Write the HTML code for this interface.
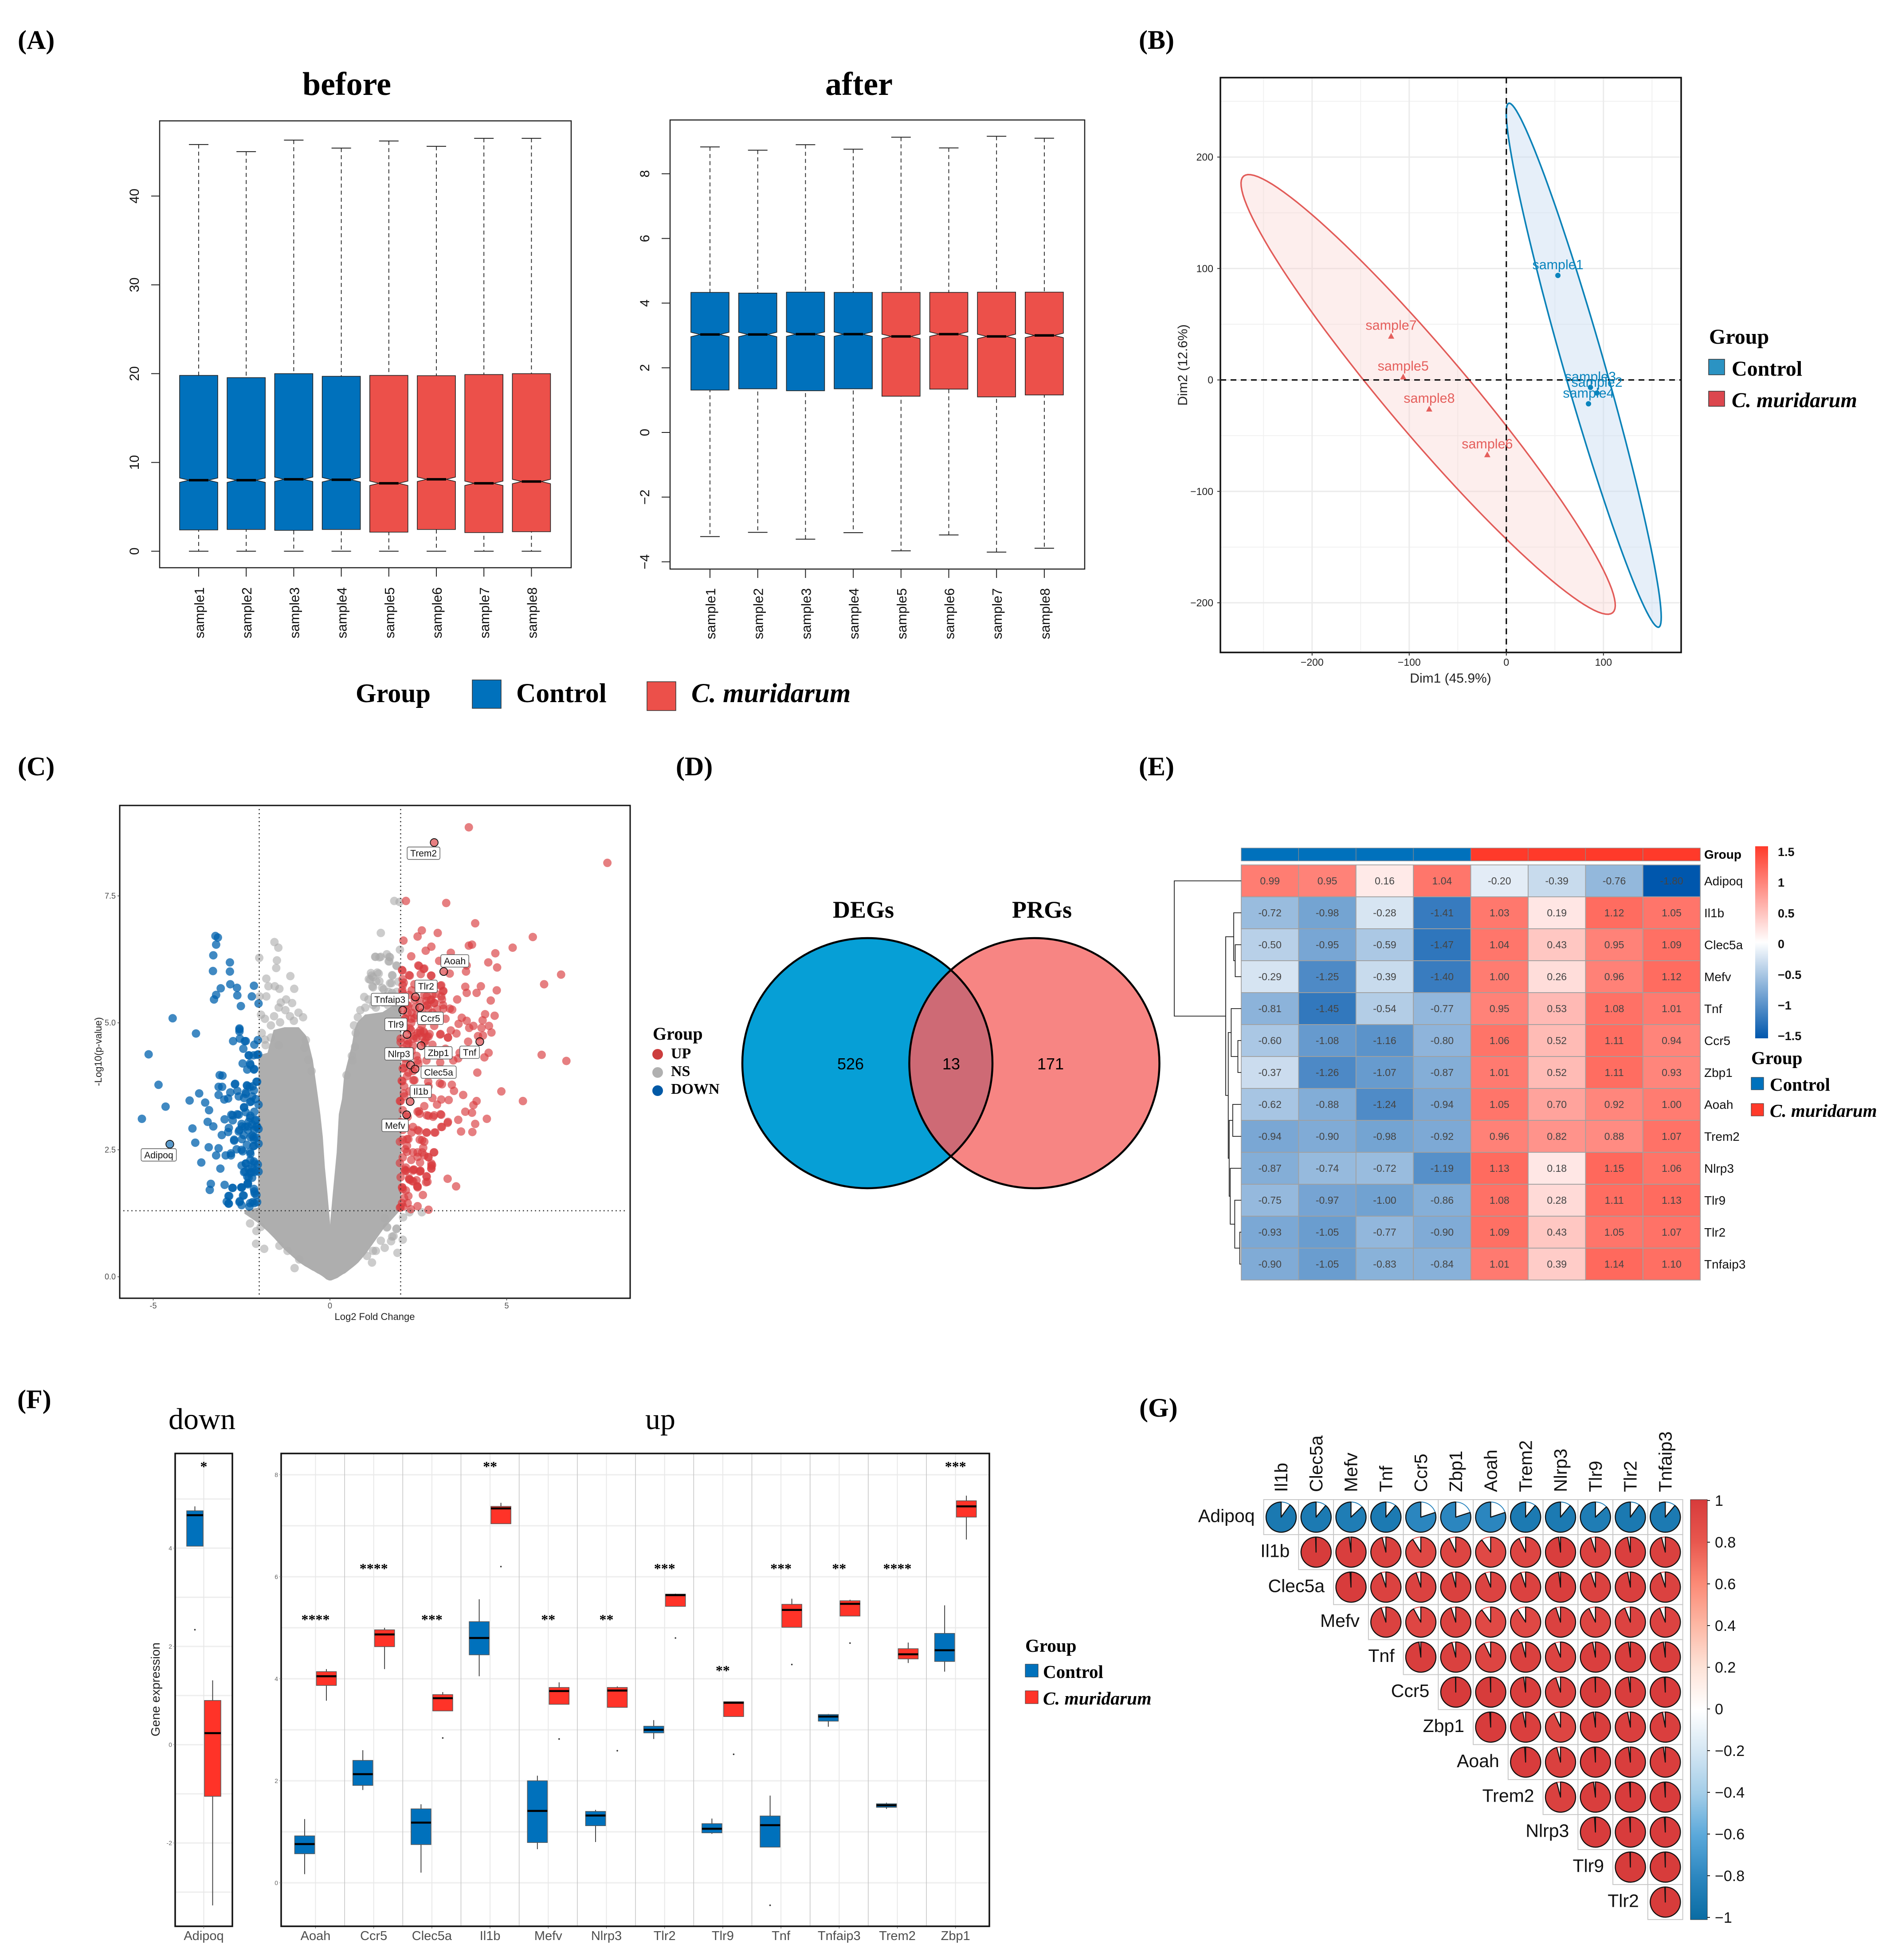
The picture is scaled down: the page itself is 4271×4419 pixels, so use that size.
<!DOCTYPE html>
<html lang="en">
<head>
<meta charset="utf-8">
<title>Multi-panel expression figure</title>
<style>
html,body{margin:0;padding:0;background:#fff}
svg{display:block}
text{font-family:"Liberation Sans",sans-serif}
.lab{font-family:"Liberation Serif",serif;font-weight:bold}
.ser{font-family:"Liberation Serif",serif}
.it{font-family:"Liberation Serif",serif;font-weight:bold;font-style:italic}
</style>
</head>
<body>
<svg id="figure" xmlns="http://www.w3.org/2000/svg" width="4271" height="4419" viewBox="0 0 4271 4419">
<rect x="0" y="0" width="4271" height="4419" fill="#fff"/>

<text class="lab" x="40" y="110" font-size="60">(A)</text>
<text class="lab" x="2568" y="110" font-size="60">(B)</text>
<text class="lab" x="40" y="1748" font-size="60">(C)</text>
<text class="lab" x="1524" y="1748" font-size="60">(D)</text>
<text class="lab" x="2568" y="1748" font-size="60">(E)</text>
<text class="lab" x="39" y="3175" font-size="60">(F)</text>
<text class="lab" x="2569" y="3194" font-size="60">(G)</text>

<g id="panel-a">
  <text class="lab" x="682" y="214" font-size="74">before</text>
  <text class="lab" x="1861" y="214" font-size="74">after</text>
  <g>
    <text class="lab" x="802" y="1583" font-size="60">Group</text>
    <rect x="1065" y="1533" width="65" height="64" fill="#0071bc" stroke="#333" stroke-width="1.5"/>
    <text class="lab" x="1164" y="1583" font-size="61.5">Control</text>
    <rect x="1459" y="1537" width="65" height="65" fill="#ec504a" stroke="#333" stroke-width="1.5"/>
    <text class="it" x="1559" y="1583" font-size="61">C. muridarum</text>
  </g>
</g>

<g id="panel-b">
  <text x="3271" y="1539" font-size="30" text-anchor="middle" fill="#222">Dim1 (45.9%)</text>
  <text x="2677" y="823" font-size="30" text-anchor="middle" fill="#222" transform="rotate(-90 2677 823)">Dim2 (12.6%)</text>
  <g>
    <text class="lab" x="3854" y="775" font-size="48">Group</text>
    <rect x="3853" y="810" width="36" height="35" fill="#2b93c3" stroke="#333" stroke-width="1.5"/>
    <text class="lab" x="3905" y="847" font-size="48">Control</text>
    <rect x="3853" y="882" width="36" height="34" fill="#dc474e" stroke="#333" stroke-width="1.5"/>
    <text class="it" x="3905" y="918" font-size="48">C. muridarum</text>
  </g>
</g>

<g id="panel-c">
  <text x="845" y="2976" font-size="22" text-anchor="middle" fill="#222">Log2 Fold Change</text>
  <text x="229" y="2371" font-size="22" text-anchor="middle" fill="#222" transform="rotate(-90 229 2371)">-Log10(p-value)</text>
  <g>
    <text class="lab" x="1472" y="2344" font-size="40">Group</text>
    <ellipse cx="1483" cy="2377" rx="12" ry="12" fill="#cc3d3d"/>
    <text class="lab" x="1513" y="2386" font-size="34">UP</text>
    <ellipse cx="1483" cy="2418" rx="12" ry="12" fill="#b0b0b0"/>
    <text class="lab" x="1513" y="2426" font-size="34">NS</text>
    <ellipse cx="1483" cy="2459" rx="12" ry="12" fill="#0059a6"/>
    <text class="lab" x="1513" y="2466" font-size="34">DOWN</text>
  </g>
</g>

<g id="panel-d">
  <text class="lab" x="1878" y="2069" font-size="54">DEGs</text>
  <text class="lab" x="2282" y="2069" font-size="54">PRGs</text>
  <defs>
    <clipPath id="vennClip"><circle cx="1956" cy="2397" r="282"/></clipPath>
  </defs>
  <circle cx="1956" cy="2397" r="282" fill="#069fd6"/>
  <circle cx="2332.5" cy="2397" r="282" fill="#f78583"/>
  <circle cx="2332.5" cy="2397" r="282" fill="#ce6a75" clip-path="url(#vennClip)"/>
  <circle cx="1956" cy="2397" r="282" fill="none" stroke="#000" stroke-width="4.5"/>
  <circle cx="2332.5" cy="2397" r="282" fill="none" stroke="#000" stroke-width="4.5"/>
  <text x="1918" y="2411" font-size="36" text-anchor="middle">526</text>
  <text x="2145" y="2411" font-size="36" text-anchor="middle">13</text>
  <text x="2369" y="2411" font-size="36" text-anchor="middle">171</text>
</g>

<g id="panel-e">
  <text x="3843" y="1936" font-size="28" font-weight="bold">Group</text>
  <defs>
    <linearGradient id="heatBar" x1="0" y1="0" x2="0" y2="1">
      <stop offset="0" stop-color="#ff3a2a"/><stop offset="0.5" stop-color="#ffffff"/><stop offset="1" stop-color="#0057ad"/>
    </linearGradient>
    <linearGradient id="corrBar" x1="0" y1="0" x2="0" y2="1">
      <stop offset="0" stop-color="#d73b3b"/><stop offset="0.1" stop-color="#e8574e"/><stop offset="0.2" stop-color="#fb8a76"/><stop offset="0.3" stop-color="#fdb8a5"/><stop offset="0.4" stop-color="#fde3d8"/><stop offset="0.5" stop-color="#ffffff"/><stop offset="0.6" stop-color="#d4e6f3"/><stop offset="0.7" stop-color="#a3cde8"/><stop offset="0.8" stop-color="#5aa8da"/><stop offset="0.9" stop-color="#2b86bf"/><stop offset="1" stop-color="#0a6ca3"/>
    </linearGradient>
  </defs>
  <rect x="3958" y="1908" width="29" height="433" fill="url(#heatBar)"/>
  <g>
    <text class="lab" x="3949" y="2399" font-size="41">Group</text>
    <rect x="3949" y="2429" width="28" height="28" fill="#0071bc" stroke="#333" stroke-width="1"/>
    <text class="lab" x="3991" y="2459" font-size="41">Control</text>
    <rect x="3949" y="2488" width="28" height="28" fill="#ff3a2a" stroke="#333" stroke-width="1"/>
    <text class="it" x="3991" y="2518" font-size="41">C. muridarum</text>
  </g>
</g>

<g id="panel-f">
  <text class="ser" x="380" y="3222" font-size="68">down</text>
  <text class="ser" x="1455" y="3222" font-size="68">up</text>
  <text x="360" y="3809" font-size="28" text-anchor="middle" fill="#222" transform="rotate(-90 360 3809)">Gene expression</text>
  <g>
    <text class="lab" x="2312" y="3724" font-size="41">Group</text>
    <rect x="2312" y="3752" width="29" height="29" fill="#0071bc" stroke="#333" stroke-width="1"/>
    <text class="lab" x="2352" y="3783" font-size="41">Control</text>
    <rect x="2312" y="3812" width="29" height="29" fill="#ff3328" stroke="#333" stroke-width="1"/>
    <text class="it" x="2352" y="3843" font-size="41.5">C. muridarum</text>
  </g>
</g>

<g id="panel-g">
  <rect x="3812" y="3381" width="38" height="947" fill="url(#corrBar)" stroke="#333" stroke-width="1"/>
</g>
</svg>

<script>
/* ---------- shared ---------- */
const SVGNS = 'http://www.w3.org/2000/svg';
function mk(tag, attrs, parent, name) {
  const el = document.createElementNS(SVGNS, tag);
  for (const k in attrs) el.setAttribute(k, attrs[k]);
  
  
  parent.appendChild(el);
  return el;
}
function txt(parent, str, x, y, size, opts, name) {
  const el = mk('text', Object.assign({x: x, y: y, 'font-size': size}, opts || {}), parent, name);
  el.textContent = str;
  return el;
}
const panelA = document.getElementById('panel-a');
const panelB = document.getElementById('panel-b');
const panelC = document.getElementById('panel-c');
const panelE = document.getElementById('panel-e');
const panelF = document.getElementById('panel-f');
const panelG = document.getElementById('panel-g');

/* ---------- panel A data ---------- */
const sampleNames = ['sample1','sample2','sample3','sample4','sample5','sample6','sample7','sample8'];
const sampleGroups = ['c','c','c','c','m','m','m','m'];
const beforeTicks = [0,10,20,30,40];
const beforeHigh = [45.8,45.0,46.3,45.4,46.2,45.6,46.5,46.5];
const beforeQ3 = [19.8,19.55,20.0,19.7,19.8,19.77,19.9,20.0];
const beforeMedian = [8.0,8.0,8.1,8.05,7.65,8.1,7.65,7.85];
const beforeQ1 = [2.4,2.45,2.35,2.45,2.15,2.45,2.1,2.2];
const beforeLow = [0,0,0,0,0,0,0,0];
const afterTicks = [-4,-2,0,2,4,6,8];
const afterHigh = [8.83,8.73,8.9,8.76,9.13,8.8,9.16,9.1];
const afterQ3 = [4.33,4.31,4.34,4.33,4.33,4.33,4.34,4.34];
const afterMedian = [3.03,3.03,3.04,3.04,2.97,3.04,2.97,3.0];
const afterQ1 = [1.31,1.35,1.29,1.35,1.12,1.34,1.10,1.16];
const afterLow = [-3.22,-3.09,-3.3,-3.1,-3.66,-3.17,-3.7,-3.58];

function drawSampleBoxes(parent, frame, xOf, yOf, ticks, high, q3, med, q1, low, labelTop) {
  mk('rect', {x: frame.x, y: frame.y, width: frame.w, height: frame.h, fill: 'none', stroke: '#222', 'stroke-width': 2.5}, parent, 'plot-frame');
  const bottom = frame.y + frame.h;
  ticks.forEach(function (t) {
    mk('line', {x1: frame.x - 19, x2: frame.x, y1: yOf(t), y2: yOf(t), stroke: '#222', 'stroke-width': 2}, parent, 'y-tick');
    const lx = frame.x - 47;
    const label = String(t).replace('-', '\u2212');
    txt(parent, label, lx, yOf(t), 30, {'text-anchor': 'middle', transform: 'rotate(-90 ' + lx + ' ' + yOf(t) + ')', fill: '#111'}, 'y-tick-label');
  });
  sampleNames.forEach(function (s, i) {
    const cx = xOf(i);
    const color = sampleGroups[i] === 'c' ? '#0071bc' : '#ec504a';
    const hw = 43, inset = 21, nh = 5;
    mk('line', {x1: cx, x2: cx, y1: yOf(high[i]), y2: yOf(low[i]), stroke: '#222', 'stroke-width': 1.8, 'stroke-dasharray': '9 7'}, parent, 'whisker-' + s);
    mk('line', {x1: cx - 22, x2: cx + 22, y1: yOf(high[i]), y2: yOf(high[i]), stroke: '#222', 'stroke-width': 2}, parent, 'cap-high-' + s);
    mk('line', {x1: cx - 22, x2: cx + 22, y1: yOf(low[i]), y2: yOf(low[i]), stroke: '#222', 'stroke-width': 2}, parent, 'cap-low-' + s);
    const yt = yOf(q3[i]), yb = yOf(q1[i]), ym = yOf(med[i]);
    const d = 'M' + (cx - hw) + ' ' + yt + 'H' + (cx + hw) + 'V' + (ym - nh) + 'L' + (cx + hw - inset) + ' ' + ym + 'L' + (cx + hw) + ' ' + (ym + nh) + 'V' + yb + 'H' + (cx - hw) + 'V' + (ym + nh) + 'L' + (cx - hw + inset) + ' ' + ym + 'L' + (cx - hw) + ' ' + (ym - nh) + 'Z';
    mk('path', {d: d, fill: color, stroke: '#222', 'stroke-width': 1.6}, parent, 'box-' + s);
    mk('line', {x1: cx - hw + inset, x2: cx + hw - inset, y1: ym, y2: ym, stroke: '#000', 'stroke-width': 5.5}, parent, 'median-' + s);
    mk('line', {x1: cx, x2: cx, y1: bottom, y2: bottom + 20, stroke: '#222', 'stroke-width': 2}, parent, 'x-tick');
    const bx = cx + 12;
    txt(parent, s, bx, labelTop, 30.5, {'text-anchor': 'end', transform: 'rotate(-90 ' + bx + ' ' + labelTop + ')', fill: '#111'}, 'x-tick-label');
  });
}
const xBefore = function (i) { return 448 + 107.2 * i; };
const yBefore = function (v) { return 1242.8 - 20.02 * v; };
const xAfter = function (i) { return 1601 + 107.7 * i; };
const yAfter = function (v) { return 975 - 72.9 * v; };
drawSampleBoxes(mk('g', {}, panelA, 'before-boxplot'), {x: 360, y: 272.5, w: 928, h: 1007.5}, xBefore, yBefore, beforeTicks, beforeHigh, beforeQ3, beforeMedian, beforeQ1, beforeLow, 1324);
drawSampleBoxes(mk('g', {}, panelA, 'after-boxplot'), {x: 1511, y: 270.5, w: 935, h: 1012.5}, xAfter, yAfter, afterTicks, afterHigh, afterQ3, afterMedian, afterQ1, afterLow, 1326);

/* ---------- panel B data ---------- */
const pcaXTicks = [-200,-100,0,100];
const pcaYTicks = [-200,-100,0,100,200];
const pcaXMinor = [-250,-150,-50,50,150];
const pcaYMinor = [-150,-50,50,150,250];
const pcaNames = ['sample1','sample3','sample2','sample4','sample7','sample5','sample8','sample6'];
const pcaDim1 = [53.1,86.6,93.3,84.6,-118.6,-106.2,-79.4,-19.6];
const pcaDim2 = [93.8,-6.7,-11.7,-21.4,39.4,2.9,-26,-67];
const pcaGroup = ['c','c','c','c','m','m','m','m'];
const controlEllipseCenter = [79.7,13.2];
const controlEllipseMajor = [77.2,-235.1];
const controlEllipseMinor = [20.2,5.04];
const muridarumEllipseCenter = [-80.5,-13];
const muridarumEllipseMajor = [190,-195.9];
const muridarumEllipseMinor = [32.1,23.6];

const xPca = function (v) { return 3396.8 + 2.19 * v; };
const yPca = function (v) { return 856.6 - 2.5123 * v; };
const bFrame = {x: 2752, y: 175, w: 1039, h: 1296};
pcaXMinor.forEach(function (v) { mk('line', {x1: xPca(v), x2: xPca(v), y1: bFrame.y, y2: bFrame.y + bFrame.h, stroke: '#f1f1f1', 'stroke-width': 2}, panelB, 'minor-gridline-x'); });
pcaYMinor.forEach(function (v) { mk('line', {x1: bFrame.x, x2: bFrame.x + bFrame.w, y1: yPca(v), y2: yPca(v), stroke: '#f1f1f1', 'stroke-width': 2}, panelB, 'minor-gridline-y'); });
pcaXTicks.forEach(function (v) { mk('line', {x1: xPca(v), x2: xPca(v), y1: bFrame.y, y2: bFrame.y + bFrame.h, stroke: '#ebebeb', 'stroke-width': 3}, panelB, 'major-gridline-x'); });
pcaYTicks.forEach(function (v) { mk('line', {x1: bFrame.x, x2: bFrame.x + bFrame.w, y1: yPca(v), y2: yPca(v), stroke: '#ebebeb', 'stroke-width': 3}, panelB, 'major-gridline-y'); });
function ellipsePath(c, m, n) {
  let d = '';
  for (let a = 0; a < 120; a++) {
    const t = a / 120 * 2 * Math.PI;
    const px = xPca(c[0] + Math.cos(t) * m[0] + Math.sin(t) * n[0]);
    const py = yPca(c[1] + Math.cos(t) * m[1] + Math.sin(t) * n[1]);
    d += (a ? 'L' : 'M') + px.toFixed(1) + ' ' + py.toFixed(1);
  }
  return d + 'Z';
}
mk('path', {d: ellipsePath(muridarumEllipseCenter, muridarumEllipseMajor, muridarumEllipseMinor), fill: '#f9cfcc', 'fill-opacity': 0.35, stroke: '#e25b58', 'stroke-width': 3.4}, panelB, 'muridarum-ellipse');
mk('path', {d: ellipsePath(controlEllipseCenter, controlEllipseMajor, controlEllipseMinor), fill: '#c8dcf2', 'fill-opacity': 0.45, stroke: '#0b82b8', 'stroke-width': 3.6}, panelB, 'control-ellipse');
mk('line', {x1: bFrame.x, x2: bFrame.x + bFrame.w, y1: yPca(0), y2: yPca(0), stroke: '#000', 'stroke-width': 3, 'stroke-dasharray': '13 10'}, panelB, 'zero-line-horizontal');
mk('line', {x1: xPca(0), x2: xPca(0), y1: bFrame.y, y2: bFrame.y + bFrame.h, stroke: '#000', 'stroke-width': 3, 'stroke-dasharray': '13 10'}, panelB, 'zero-line-vertical');
mk('rect', {x: bFrame.x, y: bFrame.y, width: bFrame.w, height: bFrame.h, fill: 'none', stroke: '#111', 'stroke-width': 3.5}, panelB, 'plot-frame');
pcaXTicks.forEach(function (v) {
  mk('line', {x1: xPca(v), x2: xPca(v), y1: bFrame.y + bFrame.h, y2: bFrame.y + bFrame.h + 7, stroke: '#333', 'stroke-width': 2}, panelB, 'x-tick');
  txt(panelB, String(v).replace('-', '\u2212'), xPca(v), 1501, 23, {'text-anchor': 'middle', fill: '#222'}, 'x-tick-label');
});
pcaYTicks.forEach(function (v) {
  mk('line', {x1: bFrame.x - 7, x2: bFrame.x, y1: yPca(v), y2: yPca(v), stroke: '#333', 'stroke-width': 2}, panelB, 'y-tick');
  txt(panelB, String(v).replace('-', '\u2212'), bFrame.x - 16, yPca(v) + 8, 23, {'text-anchor': 'end', fill: '#222'}, 'y-tick-label');
});
pcaNames.forEach(function (s, i) {
  const px = xPca(pcaDim1[i]), py = yPca(pcaDim2[i]);
  const col = pcaGroup[i] === 'c' ? '#0a84bd' : '#e55f5c';
  if (pcaGroup[i] === 'c') {
    mk('circle', {cx: px, cy: py, r: 6, fill: col}, panelB, 'point-' + s);
  } else {
    mk('path', {d: 'M' + px + ' ' + (py - 7) + 'L' + (px + 7) + ' ' + (py + 6) + 'L' + (px - 7) + ' ' + (py + 6) + 'Z', fill: col}, panelB, 'point-' + s);
  }
  txt(panelB, s, px, py - 14, 30.5, {'text-anchor': 'middle', fill: col}, 'point-label-' + s);
});

/* ---------- panel C data ---------- */
const volcanoXTicks = [-5,0,5];
const volcanoYTicks = [0,2.5,5,7.5];
const volcanoFcCutoff = 2;
const volcanoPCutoff = 1.3;
const grayEnvelopeLfc = [-2.4,-2.02,-2,-1.75,-1.58,-1.28,-0.89,-0.7,-0.62,-0.5,-0.44,-0.35,-0.29,-0.22,-0.16,-0.09,-0.02,0,0.03,0.1,0.21,0.27,0.36,0.42,0.53,0.64,0.71,0.79,1,1.5,1.95,2];
const grayEnvelopeUpper = [1.3,1.35,4.35,4.4,4.85,4.9,4.9,4.75,4.6,4.26,3.96,3.51,3.2,2.75,2.15,1.65,1.1,0.8,1.1,1.65,2.45,3.2,3.5,3.96,4.26,4.56,4.86,5.0,5.15,5.2,5.4,5.4];
const grayEnvelopeLower = [1.25,1.07,1.06,0.9,0.78,0.55,0.31,0.22,0.19,0.14,0.12,0.08,0.06,0.03,0,-0.04,-0.06,-0.06,-0.06,-0.04,-0.01,0.02,0.06,0.08,0.14,0.2,0.24,0.29,0.46,0.95,1.3,1.35];
const grayPoints = [[1.82,7.4],[1.97,7.38],[1.44,6.77],[1.98,6.44],[1.28,6.3],[1.4,6.29],[1.61,6.35],[1.7,6.29],[1.88,6.13],[1.68,6.21],[1.16,5.98],[1.34,5.99],[1.22,5.9],[1.1,5.86],[1.4,5.82],[1.76,5.94],[1.7,5.78],[1.22,5.7],[1.52,5.66],[0.97,5.51],[1.09,5.46],[0.86,5.25],[1.2,5.72],[1.18,5.93],[1.38,5.97],[1.14,5.85],[1.31,5.82],[1.77,5.93],[1.74,5.78],[1.48,5.69],[1.94,5.81],[1.66,5.61],[1.89,5.61],[1.89,6.12],[1.66,6.21],[1.29,6.3],[1.44,6.3],[1.68,6.3],[0.79,5.11],[0.68,4.95],[0.73,4.8],[0.71,4.53],[0.62,4.35],[0.64,4.26],[0.47,3.97],[1.22,5.35],[1.64,5.35],[1.76,5.59],[1.9,5.3],[1.5,5.4],[1.0,5.3],[1.3,5.3],
[-1.57,6.59],[-1.46,6.48],[-2.0,6.28],[-1.5,6.23],[-1.52,6.08],[-1.12,5.92],[-1.8,5.87],[-1.01,5.67],[-1.74,5.72],[-1.56,5.72],[-1.43,5.67],[-1.8,5.52],[-1.99,5.52],[-1.24,5.46],[-1.39,5.4],[-1.07,5.39],[-1.45,5.3],[-1.26,5.25],[-0.89,5.2],[-0.76,5.11],[-1.13,5.13],[-1.58,5.13],[-1.95,5.16],[-1.84,5.08],[-1.41,5.01],[-1.67,4.95],[-1.02,5.04],[-1.84,4.67],[-1.67,4.71],[-1.82,4.56],[-0.68,4.66],[-0.72,4.51],[-0.61,4.27],[-0.52,4.05],[-1.93,4.8],[-1.45,4.56],
[-1,0.17],[-1.86,0.55],[-2.09,0.65],[-1.96,0.98],[-2.26,1.05],[-2.08,0.9],[-1.43,0.61],[-1.2,0.51],[-0.87,0.34],[2.06,0.73],[1.91,0.47],[1.55,0.57],[1.44,0.71],[1.19,0.28],[1.22,0.51],[1.61,0.97],[1.88,0.94],[2.6,1.27],[1.76,0.79],[1.8,0.8],[1.73,0.7],[1.3,0.51],[1.05,0.41],[1.62,0.98],[1.89,0.95],[2.07,1.17],[2.25,1.27],[1.55,1.15]];
const upPoints = [[3.93,8.85],[7.85,8.15],[2.15,7.4],[3.29,7.36],[4.11,6.96],[2.6,6.82],[3.05,6.77],[2.48,6.7],[2.08,6.62],[5.74,6.69],[3.93,6.52],[4.02,6.54],[2.87,6.5],[5.17,6.48],[2.71,6.42],[4.68,6.37],[3.42,6.38],[2.3,6.31],[3.09,6.22],[4.48,6.19],[2.5,6.13],[4.73,6.09],[2.67,6.07],[3.87,6.13],[2.04,6.04],[3.85,6.01],[6.54,5.95],[2.24,5.94],[3.39,5.97],[2.86,5.93],[2.57,5.96],[2.06,5.86],[6.06,5.76],[2.06,5.74],[3.83,5.71],[4.27,5.72],[3.15,5.74],[4.72,5.64],[3.2,5.62],[4.15,5.59],[3.87,5.59],[3.15,5.52],[2.06,5.59],[2.24,5.55],[2.67,5.55],[2.9,5.55],[3.6,5.46],[4.55,5.44],[2.54,5.43],[2.73,5.43],[2.96,5.39],[3.2,5.35],[3.46,5.26],[2.18,5.35],[2.79,5.27],[3.03,5.27],[4.39,5.17],[4.66,5.14],[3.73,5.1],[4.32,5.05],[3.87,5.04],[3.64,4.98],[2.12,5.08],[2.3,5.08],[3.27,5.08],[4.06,4.94],[4.5,4.94],[4.29,4.9],[3.94,4.9],[3.42,4.85],[4.57,4.81],[3.58,4.79],[3.12,4.77],[4.19,4.74],[4.33,4.75],[2.48,4.8],[2.67,4.8],[2.6,4.73],[2.79,4.73],[2.36,4.69],[2.0,4.69],[3.34,4.71],[3.91,4.63],[2.67,4.61],[2.9,4.57],[2.18,4.57],[2.06,4.49],[3.27,4.49],[3.67,4.41],[4.49,4.41],[5.99,4.37],[6.69,4.25],[4.37,4.32],[3.63,4.3],[3.49,4.26],[3.12,4.22],[2.73,4.26],[2.12,4.3],[2.79,4.06],[2.06,4.1],[2.18,3.95],[4.17,4.02],[2.03,3.86],[3.11,3.81],[2.36,3.87],[2.79,3.75],[3.45,3.78],[4.85,3.65],[3.51,3.66],[2.67,3.67],[3.77,3.58],[5.46,3.46],[4.15,3.46],[3.15,3.49],[3.36,3.48],[2.0,3.46],[2.9,3.52],[3.03,3.39],[4.06,3.38],[2.67,3.36],[2.06,3.28],[3.83,3.25],[4.02,3.23],[2.48,3.25],[2.54,3.21],[2.79,3.17],[2.92,3.15],[3.15,3.19],[4.44,3.11],[3.63,3.09],[2.0,3.05],[4.11,3.01],[3.33,3.03],[3.15,2.95],[3.71,2.86],[4.03,2.85],[2.48,2.89],[2.96,2.84],[2.73,2.84],[2.06,2.89],[2.06,2.7],[2.18,2.71],[2.54,2.7],[2.67,2.66],[2.64,2.54],[2.18,2.58],[2.94,2.45],[2.48,2.45],[2.67,2.39],[2.06,2.35],[2.18,2.46],[2.79,2.35],[2.87,2.23],[2.87,2.13],[2.12,2.11],[2.36,2.11],[2.54,2.07],[2.73,1.98],[2.0,1.96],[2.24,1.92],[2.36,1.88],[3.33,1.93],[2.72,1.86],[2.48,1.76],[3.57,1.78],[2.06,1.72],[2.22,1.59],[2.63,1.61],[2.04,1.45],[2.2,1.45],[2.48,1.39],[2.79,1.32],[2.0,1.37],
[2.05,6.03],[2.65,6.06],[2.52,6.12],[2.26,5.93],[2.87,5.93],[2.39,5.76],[2.09,5.79],[3.13,5.73],[2.31,5.64],[3.21,5.63],[2.05,5.64],[2.74,5.52],[3.0,5.57],[2.87,5.46],[2.95,5.39],[3.17,5.46],[2.22,5.34],[2.74,5.34],[3.21,5.28],[2.31,5.2],[3.39,5.28],[2.13,5.09],[2.39,5.09],[2.95,4.94],[2.26,4.89],[2.65,4.83],[2.82,4.78],[2.56,4.8],[3.13,4.78],[3.34,4.71],[2.74,4.72],[2.39,4.74],[2.0,4.62],[2.22,4.59],[2.31,4.44],[2.48,4.26],[2.09,4.11],[2.22,4.02],[2.05,3.85],[2.39,3.87],[2.78,3.84],[3.17,3.79],[2.09,3.61],[2.52,3.26],[1.98,3.46],[2.74,3.18],[2.95,3.18],[3.13,3.2],[3.34,3.05],[3.17,2.95],[2.52,2.87],[2.74,2.84],[2.98,2.84],[2.31,2.84],[1.98,2.66],[2.22,2.71],[2.61,2.69],[2.13,2.51],[2.35,2.45],[2.48,2.36],[2.78,2.36],[2.95,2.45],[2.61,2.45],[1.98,2.24],[2.15,2.09],[2.35,2.09],[2.56,2.09],[2.87,2.18],[2.74,1.97],[2.05,1.76],[2.48,1.78],[2.26,1.91],[2.07,1.38],[1.98,1.36],[2.29,1.33],[2.04,1.76],[2.47,1.78],[2.76,1.87],[2.24,1.94],[2.33,1.88],[2.13,2.08],[2.38,2.11],[2.56,2.08],[2.89,2.2],[2.87,2.13],[2.4,5.3],[2.6,5.2],[2.9,5.2],[2.2,5.2],[2.3,5.0],[2.4,5.45],[2.75,5.35],[2.85,5.45],[2.15,4.9],[2.3,4.85],[2.45,4.7],[2.55,4.85],[2.2,4.65],[2.35,4.55],[2.25,4.4],[2.45,4.35],[2.15,4.2],[2.35,4.05],[2.5,4.2],[2.1,3.75],[2.25,3.65],[2.1,3.55],[2.4,3.6],[2.2,3.15],[2.15,2.95],[2.35,2.95],[2.3,2.3],[2.55,2.25],[2.15,2.15],[2.45,1.9],[2.15,1.7],[2.1,1.55],[2.6,4.95],[2.7,4.65],[2.45,5.15],[2.65,5.05],[2.95,5.05]];
const downPoints = [[-3.24,6.71],[-3.17,6.68],[-3.22,6.54],[-3.3,6.33],[-2.83,6.19],[-3.31,6.02],[-2.83,6.01],[-2.82,5.76],[-3.09,5.68],[-2.63,5.69],[-2.15,5.73],[-3.22,5.55],[-3.28,5.46],[-2.62,5.54],[-2.21,5.52],[-2.02,5.38],[-2.52,5.33],[-4.45,5.09],[-3.79,4.79],[-2.56,4.89],[-2.56,4.83],[-2.55,4.69],[-2.74,4.64],[-2.38,4.64],[-2.04,4.66],[-2.14,4.57],[-2.45,4.49],[-5.13,4.38],[-2.29,4.36],[-2.16,4.36],[-2.03,4.38],[-2.47,4.2],[-2.26,4.2],[-2.34,4.08],[-2.14,4.09],[-3.12,3.97],[-3.04,3.96],[-2.06,3.84],[-4.85,3.78],[-2.68,3.8],[-2.35,3.77],[-3.15,3.74],[-3.05,3.74],[-2.27,3.74],[-2.15,3.67],[-2.62,3.66],[-2.82,3.63],[-2.38,3.6],[-3.7,3.61],[-3.15,3.58],[-2.99,3.49],[-2.88,3.51],[-3.97,3.47],[-2.26,3.44],[-2.02,3.39],[-3.53,3.43],[-2.43,3.34],[-4.65,3.35],[-3.42,3.28],[-2.14,3.25],[-2.79,3.19],[-2.62,3.2],[-2.98,3.1],[-5.32,3.11],[-2.26,3.13],[-2.09,3.09],[-3.46,3.05],[-2.5,3.01],[-3.3,2.96],[-2.86,2.93],[-3.89,2.92],[-2.56,2.89],[-2.32,2.89],[-2.14,2.89],[-2.02,2.91],[-2.88,2.85],[-3.06,2.79],[-2.44,2.79],[-2.2,2.78],[-2.08,2.74],[-2.71,2.7],[-3.81,2.64],[-3.43,2.55],[-3.15,2.53],[-2.14,2.58],[-2.02,2.62],[-2.5,2.5],[-2.26,2.46],[-2.8,2.43],[-3.22,2.39],[-2.95,2.39],[-2.8,2.39],[-3.64,2.25],[-2.5,2.19],[-2.38,2.23],[-2.14,2.23],[-3.1,2.13],[-2.4,2.07],[-2.26,2.04],[-2.14,2.06],[-2.02,2.07],[-3.37,1.83],[-2.98,1.81],[-2.32,1.84],[-3.4,1.71],[-2.76,1.75],[-2.5,1.76],[-2.14,1.68],[-2.08,1.61],[-2.46,1.6],[-2.85,1.59],[-2.92,1.48],[-2.86,1.44],[-2.56,1.47],[-2.5,1.41],[-2.26,1.45],[-2.14,1.45],[-2.2,3.0],[-2.3,3.05],[-2.4,2.95],[-2.25,2.75],[-2.15,2.7],[-2.35,2.6],[-2.25,2.3],[-2.2,2.15],[-2.3,2.12],[-2.1,2.95],[-2.2,3.55],[-2.1,3.5],[-2.3,1.95],[-2.2,1.95],
[-2.56,4.87],[-2.41,4.64],[-2.3,4.36],[-2.06,4.37],[-2.25,4.17],[-2.15,4.08],[-2.69,3.79],[-2.34,3.76],[-2.19,3.75],[-2.08,3.84],[-2.38,3.63],[-2.58,3.55],[-2.43,3.52],[-2.23,3.45],[-2.43,3.33],[-2.38,3.24],[-2.75,3.18],[-2.58,3.19],[-2.75,3.08],[-2.25,3.17],[-2.12,3.08],[-2.49,2.96],[-2.32,2.96],[-2.06,2.96],[-2.58,2.86],[-2.15,2.75],[-2.71,2.68],[-2.49,2.71],[-2.17,2.57],[-2.64,2.51],[-2.47,2.47],[-2.25,2.42],[-2.38,2.23],[-2.15,2.27],[-2.04,2.21],[-2.23,2.06],[-2.43,2.06],[-2.34,1.97],[-2.1,2.09],[-2.32,1.82],[-2.49,1.76],[-2.15,1.73],[-2.87,1.59],[-2.55,1.49],[-2.87,1.44],[-2.28,1.38],[-2.06,1.47],[-2.44,1.6],[-2.19,1.47],[-2.13,1.64],[-2.33,1.84],[-2.51,1.76],[-2.75,1.75]];
const geneLabels = ['Trem2','Aoah','Tlr2','Tnfaip3','Ccr5','Tlr9','Nlrp3','Zbp1','Tnf','Clec5a','Il1b','Mefv','Adipoq'];
const geneLfc = [2.95,3.22,2.42,2.06,2.54,2.18,2.28,2.58,4.24,2.41,2.27,2.17,-4.53];
const geneLogP = [8.55,6.01,5.51,5.25,5.3,4.77,4.17,4.55,4.63,4.09,3.45,3.19,2.61];
/* label box displacement from its point, in pixels (layout, not data) */
const labelDx = [-24,25,24,-29,24,-25,-26,39,-23,53,24,-26,-25];
const labelDy = [24,-24,-24,-24,24,-23,-25,16,24,7,-23,24,24];

const xVol = function (v) { return 744 + 79.7 * v; };
const yVol = function (v) { return 2878.6 - 114.5 * v; };
const cFrame = {x: 270, y: 1816, w: 1151, h: 1111};
{
  const gg = mk('g', {}, panelC, 'gray-not-significant-points');
  let d = '';
  grayEnvelopeLfc.forEach(function (v, i) { d += (i ? 'L' : 'M') + xVol(v).toFixed(1) + ' ' + yVol(grayEnvelopeUpper[i]).toFixed(1); });
  for (let i = grayEnvelopeLfc.length - 1; i >= 0; i--) d += 'L' + xVol(grayEnvelopeLfc[i]).toFixed(1) + ' ' + yVol(grayEnvelopeLower[i]).toFixed(1);
  mk('path', {d: d + 'Z', fill: '#aeaeae', stroke: '#aeaeae', 'stroke-width': 3, 'stroke-linejoin': 'round'}, gg, 'gray-point-mass');
  grayPoints.forEach(function (p) { mk('circle', {cx: xVol(p[0]), cy: yVol(p[1]), r: 9.5, fill: '#aaaaaa', 'fill-opacity': 0.6}, gg, 'gray-point'); });
  const gu = mk('g', {}, panelC, 'up-points');
  upPoints.forEach(function (p) { mk('circle', {cx: xVol(p[0]), cy: yVol(p[1]), r: 9.5, fill: '#d93a3d', 'fill-opacity': 0.65}, gu, 'up-point'); });
  const gd = mk('g', {}, panelC, 'down-points');
  downPoints.forEach(function (p) { mk('circle', {cx: xVol(p[0]), cy: yVol(p[1]), r: 9.5, fill: '#0062ad', 'fill-opacity': 0.75}, gd, 'down-point'); });
  [volcanoFcCutoff, -volcanoFcCutoff].forEach(function (v) {
    mk('line', {x1: xVol(v), x2: xVol(v), y1: cFrame.y + 8, y2: cFrame.y + cFrame.h - 8, stroke: '#333', 'stroke-width': 2.6, 'stroke-dasharray': '2.6 6.5'}, panelC, 'fold-change-cutoff-line');
  });
  mk('line', {x1: cFrame.x + 8, x2: cFrame.x + cFrame.w - 8, y1: yVol(volcanoPCutoff), y2: yVol(volcanoPCutoff), stroke: '#333', 'stroke-width': 2.6, 'stroke-dasharray': '2.6 6.5'}, panelC, 'p-value-cutoff-line');
  mk('rect', {x: cFrame.x, y: cFrame.y, width: cFrame.w, height: cFrame.h, fill: 'none', stroke: '#111', 'stroke-width': 3}, panelC, 'plot-frame');
  volcanoXTicks.forEach(function (v) {
    mk('line', {x1: xVol(v), x2: xVol(v), y1: cFrame.y + cFrame.h, y2: cFrame.y + cFrame.h + 5, stroke: '#444', 'stroke-width': 1.5}, panelC, 'x-tick');
    txt(panelC, String(v), xVol(v), 2950, 18, {'text-anchor': 'middle', fill: '#4d4d4d'}, 'x-tick-label');
  });
  volcanoYTicks.forEach(function (v) {
    mk('line', {x1: cFrame.x - 5, x2: cFrame.x, y1: yVol(v), y2: yVol(v), stroke: '#444', 'stroke-width': 1.5}, panelC, 'y-tick');
    txt(panelC, v.toFixed(1), cFrame.x - 9, yVol(v) + 6, 18, {'text-anchor': 'end', fill: '#4d4d4d'}, 'y-tick-label');
  });
  geneLabels.forEach(function (name, i) {
    const px = xVol(geneLfc[i]), py = yVol(geneLogP[i]);
    const up = geneLfc[i] > 0;
    mk('circle', {cx: px, cy: py, r: 8.8, fill: up ? '#d93a3d' : '#0062ad', 'fill-opacity': 0.65, stroke: '#111', 'stroke-width': 1.8}, panelC, 'gene-point-' + name);
  });
  geneLabels.forEach(function (name, i) {
    const cx = xVol(geneLfc[i]) + labelDx[i], cy = yVol(geneLogP[i]) + labelDy[i];
    const box = mk('rect', {rx: 3.5, ry: 3.5, y: cy - 14, height: 28, fill: '#fff', stroke: '#555', 'stroke-width': 1.4}, panelC, 'gene-label-box-' + name);
    const t = txt(panelC, name, cx, cy + 7.5, 21, {'text-anchor': 'middle', fill: '#111'}, 'gene-label-' + name);
    const w = t.getComputedTextLength() + 14;
    box.setAttribute('x', cx - w / 2);
    box.setAttribute('width', w);
  });
}

/* ---------- panel E data ---------- */
const heatRows = ['Adipoq','Il1b','Clec5a','Mefv','Tnf','Ccr5','Zbp1','Aoah','Trem2','Nlrp3','Tlr9','Tlr2','Tnfaip3'];
const heatColumnGroups = ['c','c','c','c','m','m','m','m'];
const heatAdipoq = [0.99,0.95,0.16,1.04,-0.20,-0.39,-0.76,-1.80];
const heatIl1b = [-0.72,-0.98,-0.28,-1.41,1.03,0.19,1.12,1.05];
const heatClec5a = [-0.50,-0.95,-0.59,-1.47,1.04,0.43,0.95,1.09];
const heatMefv = [-0.29,-1.25,-0.39,-1.40,1.00,0.26,0.96,1.12];
const heatTnf = [-0.81,-1.45,-0.54,-0.77,0.95,0.53,1.08,1.01];
const heatCcr5 = [-0.60,-1.08,-1.16,-0.80,1.06,0.52,1.11,0.94];
const heatZbp1 = [-0.37,-1.26,-1.07,-0.87,1.01,0.52,1.11,0.93];
const heatAoah = [-0.62,-0.88,-1.24,-0.94,1.05,0.70,0.92,1.00];
const heatTrem2 = [-0.94,-0.90,-0.98,-0.92,0.96,0.82,0.88,1.07];
const heatNlrp3 = [-0.87,-0.74,-0.72,-1.19,1.13,0.18,1.15,1.06];
const heatTlr9 = [-0.75,-0.97,-1.00,-0.86,1.08,0.28,1.11,1.13];
const heatTlr2 = [-0.93,-1.05,-0.77,-0.90,1.09,0.43,1.05,1.07];
const heatTnfaip3 = [-0.90,-1.05,-0.83,-0.84,1.01,0.39,1.14,1.10];
const heatValues = [heatAdipoq,heatIl1b,heatClec5a,heatMefv,heatTnf,heatCcr5,heatZbp1,heatAoah,heatTrem2,heatNlrp3,heatTlr9,heatTlr2,heatTnfaip3];
const heatLegendTicks = [1.5,1,0.5,0,-0.5,-1,-1.5];
/* dendrogram merges: [left child, right child, merge distance]; ints >=0 are rows, 'mN' are earlier merges */
const dendroMerges = [
  [2,3,0.09],[1,'m0',0.112],[5,6,0.05],[4,'m2',0.15],[7,8,0.127],[11,12,0.022],[10,'m5',0.097],[9,'m6',0.164],['m4','m7',0.18],['m3','m8',0.194],['m1','m9',0.232],[0,'m10',1]
];

const heatX = function (c) { return 2799 + 129.4 * c; };
const heatY = function (r) { return 1950 + 72 * r; };
function heatColor(v) {
  const hi = [255,58,42], lo = [0,87,173];
  const t = v >= 0 ? Math.min(v / 1.5, 1) : Math.min(-v / 1.8, 1);
  const e = v >= 0 ? hi : lo;
  return 'rgb(' + [0,1,2].map(function (k) { return Math.round(255 + (e[k] - 255) * t); }).join(',') + ')';
}
heatColumnGroups.forEach(function (g, c) {
  mk('rect', {x: heatX(c), y: 1912, width: 129.4, height: 29, fill: g === 'c' ? '#0071bc' : '#ff3a2a', stroke: '#8a8a8a', 'stroke-width': 1.2}, panelE, 'group-annotation-cell');
});
heatRows.forEach(function (name, r) {
  heatValues[r].forEach(function (v, c) {
    mk('rect', {x: heatX(c), y: heatY(r), width: 129.4, height: 72, fill: heatColor(v), stroke: '#a0a0a0', 'stroke-width': 1.8}, panelE, 'heat-cell-' + name);
    txt(panelE, v.toFixed(2), heatX(c) + 64.7, heatY(r) + 44, 23, {'text-anchor': 'middle', fill: '#444'}, 'heat-value');
  });
  txt(panelE, name, 3843, heatY(r) + 46, 28, {fill: '#111'}, 'row-label-' + name);
});
{
  const dg = mk('g', {fill: 'none', stroke: '#222', 'stroke-width': 1.8}, panelE, 'row-dendrogram');
  const dx = function (dist) { return 2799 - dist * 151; };
  const nodes = [];
  const resolve = function (c) {
    if (typeof c === 'number') return {y: heatY(c) + 36, x: 2799};
    return nodes[+c.slice(1)];
  };
  dendroMerges.forEach(function (m) {
    const a = resolve(m[0]), b = resolve(m[1]), x = dx(m[2]);
    mk('path', {d: 'M' + a.x + ' ' + a.y + 'H' + x + 'V' + b.y + 'H' + b.x}, dg, 'dendrogram-merge');
    nodes.push({x: x, y: (a.y + b.y) / 2});
  });
}
heatLegendTicks.forEach(function (v, i) {
  const label = String(v).replace('-', '\u2212');
  txt(panelE, label, 4009, 1930 + 69.2 * i, 27, {'font-weight': 'bold', fill: '#111'}, 'colorbar-tick-label');
});

/* ---------- panel F data ---------- */
const downGene = ['Adipoq'];
const upGenes = ['Aoah','Ccr5','Clec5a','Il1b','Mefv','Nlrp3','Tlr2','Tlr9','Tnf','Tnfaip3','Trem2','Zbp1'];
const upStars = ['****','****','***','**','**','**','***','**','***','**','****','***'];
const upStarLevel = [5.2,6.2,5.2,8.2,5.2,5.2,6.2,4.2,6.2,6.2,6.2,8.2];
const controlLow = [0.17,1.82,0.2,4.05,0.66,0.8,2.82,0.96,0.7,3.06,1.45,4.14];
const controlQ1 = [0.57,1.91,0.75,4.47,0.79,1.12,2.94,0.98,0.7,3.17,1.48,4.34];
const controlMed = [0.76,2.13,1.18,4.8,1.41,1.32,3.0,1.06,1.13,3.26,1.52,4.56];
const controlQ3 = [0.92,2.4,1.45,5.12,2.0,1.4,3.07,1.16,1.31,3.3,1.55,4.89];
const controlHigh = [1.25,2.6,1.54,5.56,2.1,1.43,3.19,1.26,1.71,3.31,1.57,5.44];
const controlOutlier = [null,null,null,null,null,null,null,null,-0.44,null,null,null];
const caseLow = [3.57,4.19,3.37,7.04,3.5,3.44,5.42,3.26,5.01,5.23,4.31,6.73];
const caseQ1 = [3.87,4.63,3.37,7.04,3.5,3.44,5.42,3.26,5.01,5.23,4.39,7.17];
const caseMed = [4.05,4.87,3.62,7.34,3.76,3.77,5.64,3.53,5.35,5.47,4.48,7.38];
const caseQ3 = [4.14,4.96,3.69,7.38,3.83,3.83,5.66,3.55,5.46,5.53,4.59,7.49];
const caseHigh = [4.19,5.0,3.74,7.45,3.93,3.85,5.67,3.55,5.57,5.55,4.71,7.59];
const caseOutlier = [null,null,2.84,6.2,2.82,2.59,4.8,2.52,4.28,4.7,null,null];
const downControl = [4.04,4.04,4.67,4.76,4.85];
const downCase = [-3.27,-1.05,0.235,0.90,1.31];
const downControlOutlier = 2.34;
const downStars = '*';
const downStarLevel = 5.7;
const fUpTicks = [0,2,4,6,8];
const fUpGrid = [0,1,2,3,4,5,6,7,8];
const fDownTicks = [-2,0,2,4];
const fDownGrid = [-3,-2,-1,0,1,2,3,4,5];

const yUp = function (v) { return 4245 - 115 * v; };
const yDown = function (v) { return 3933.6 - 110.8 * v; };
const xUp = function (i) { return 711.5 + 131.2 * i; };
const fTop = 3277, fBottom = 4343;
function fBox(parent, cx, w, stats, yOf, fill, name) {
  mk('line', {x1: cx, x2: cx, y1: yOf(stats[4]), y2: yOf(stats[0]), stroke: '#333', 'stroke-width': 1.8}, parent, 'whisker-' + name);
  mk('rect', {x: cx - w / 2, y: yOf(stats[3]), width: w, height: yOf(stats[1]) - yOf(stats[3]), fill: fill, stroke: '#555', 'stroke-width': 1.5}, parent, 'box-' + name);
  mk('line', {x1: cx - w / 2, x2: cx + w / 2, y1: yOf(stats[2]), y2: yOf(stats[2]), stroke: '#000', 'stroke-width': 4.5}, parent, 'median-' + name);
}
{
  const gD = mk('g', {}, panelF, 'down-panel');
  const dFrame = {x: 395, w: 129};
  fDownGrid.forEach(function (v) { mk('line', {x1: dFrame.x, x2: dFrame.x + dFrame.w, y1: yDown(v), y2: yDown(v), stroke: '#eeeeee', 'stroke-width': 3}, gD, 'gridline'); });
  const dcx = dFrame.x + dFrame.w / 2;
  mk('line', {x1: dcx, x2: dcx, y1: fTop, y2: fBottom, stroke: '#e6e6e6', 'stroke-width': 2}, gD, 'gridline');
  fBox(gD, dcx - 20, 37, downControl, yDown, '#0071bc', downGene[0] + '-control');
  fBox(gD, dcx + 20, 37, downCase, yDown, '#ff3328', downGene[0] + '-muridarum');
  mk('circle', {cx: dcx - 20, cy: yDown(downControlOutlier), r: 1.8, fill: '#333'}, gD, 'outlier');
  txt(gD, downStars, dcx, yDown(downStarLevel) + 15, 32, {'text-anchor': 'middle', class: 'lab'}, 'significance-stars');
  mk('rect', {x: dFrame.x, y: fTop, width: dFrame.w, height: fBottom - fTop, fill: 'none', stroke: '#111', 'stroke-width': 3.5}, gD, 'plot-frame');
  fDownTicks.forEach(function (v) {
    mk('line', {x1: dFrame.x - 4, x2: dFrame.x, y1: yDown(v), y2: yDown(v), stroke: '#666', 'stroke-width': 1.2}, gD, 'y-tick');
    txt(gD, String(v), dFrame.x - 7, yDown(v) + 5, 14, {'text-anchor': 'end', fill: '#666'}, 'y-tick-label');
  });
  mk('line', {x1: dcx, x2: dcx, y1: fBottom, y2: fBottom + 5, stroke: '#666', 'stroke-width': 1.2}, gD, 'x-tick');
  txt(gD, downGene[0], dcx, 4374, 29, {'text-anchor': 'middle', fill: '#4d4d4d'}, 'x-tick-label');

  const gU = mk('g', {}, panelF, 'up-panel');
  const uFrame = {x: 634, w: 1597};
  fUpGrid.forEach(function (v) { mk('line', {x1: uFrame.x, x2: uFrame.x + uFrame.w, y1: yUp(v), y2: yUp(v), stroke: '#eeeeee', 'stroke-width': 3}, gU, 'gridline'); });
  upGenes.forEach(function (g, i) {
    const cx = xUp(i);
    mk('line', {x1: cx, x2: cx, y1: fTop, y2: fBottom, stroke: '#e8e8e8', 'stroke-width': 2}, gU, 'category-gridline');
    if (i > 0) mk('line', {x1: cx - 65.6, x2: cx - 65.6, y1: fTop, y2: fBottom, stroke: '#c4c4c4', 'stroke-width': 1.5}, gU, 'category-separator');
  });
  upGenes.forEach(function (g, i) {
    const cx = xUp(i);
    fBox(gU, cx - 24.5, 45, [controlLow[i],controlQ1[i],controlMed[i],controlQ3[i],controlHigh[i]], yUp, '#0071bc', g + '-control');
    fBox(gU, cx + 24.5, 45, [caseLow[i],caseQ1[i],caseMed[i],caseQ3[i],caseHigh[i]], yUp, '#ff3328', g + '-muridarum');
    if (controlOutlier[i] !== null) mk('circle', {cx: cx - 24.5, cy: yUp(controlOutlier[i]), r: 1.8, fill: '#333'}, gU, 'outlier');
    if (caseOutlier[i] !== null) mk('circle', {cx: cx + 24.5, cy: yUp(caseOutlier[i]), r: 1.8, fill: '#333'}, gU, 'outlier');
    txt(gU, upStars[i], cx, yUp(upStarLevel[i]) + 15, 32, {'text-anchor': 'middle', class: 'lab'}, 'significance-stars');
    mk('line', {x1: cx, x2: cx, y1: fBottom, y2: fBottom + 5, stroke: '#666', 'stroke-width': 1.2}, gU, 'x-tick');
    txt(gU, g, cx, 4374, 29, {'text-anchor': 'middle', fill: '#4d4d4d'}, 'x-tick-label');
  });
  mk('rect', {x: uFrame.x, y: fTop, width: uFrame.w, height: fBottom - fTop, fill: 'none', stroke: '#111', 'stroke-width': 3.5}, gU, 'plot-frame');
  fUpTicks.forEach(function (v) {
    mk('line', {x1: uFrame.x - 4, x2: uFrame.x, y1: yUp(v), y2: yUp(v), stroke: '#666', 'stroke-width': 1.2}, gU, 'y-tick');
    txt(gU, String(v), uFrame.x - 7, yUp(v) + 5, 14, {'text-anchor': 'end', fill: '#666'}, 'y-tick-label');
  });
}

/* ---------- panel G data ---------- */
const corrRowNames = ['Adipoq','Il1b','Clec5a','Mefv','Tnf','Ccr5','Zbp1','Aoah','Trem2','Nlrp3','Tlr9','Tlr2'];
const corrColNames = ['Il1b','Clec5a','Mefv','Tnf','Ccr5','Zbp1','Aoah','Trem2','Nlrp3','Tlr9','Tlr2','Tnfaip3'];
const corrAdipoq = [-0.90,-0.89,-0.87,-0.89,-0.80,-0.80,-0.80,-0.89,-0.89,-0.87,-0.90,-0.89];
const corrIl1b = [0.995,0.98,0.96,0.91,0.93,0.90,0.93,0.98,0.95,0.97,0.96];
const corrClec5a = [0.99,0.95,0.95,0.96,0.94,0.95,0.98,0.95,0.97,0.95];
const corrMefv = [0.95,0.92,0.95,0.90,0.91,0.95,0.93,0.94,0.94];
const corrTnf = [0.98,0.96,0.93,0.96,0.94,0.97,0.98,0.98];
const corrCcr5 = [0.997,0.995,0.98,0.95,0.995,0.98,0.99];
const corrZbp1 = [0.99,0.97,0.93,0.98,0.97,0.97];
const corrAoah = [0.99,0.96,0.99,0.98,0.98];
const corrTrem2 = [0.96,0.98,0.99,0.99];
const corrNlrp3 = [0.99,0.99,0.99];
const corrTlr9 = [0.995,0.995];
const corrTlr2 = [0.995];
const corrRows = [corrAdipoq,corrIl1b,corrClec5a,corrMefv,corrTnf,corrCcr5,corrZbp1,corrAoah,corrTrem2,corrNlrp3,corrTlr9,corrTlr2];
const corrBarTicks = ['1','0.8','0.6','0.4','0.2','0','\u22120.2','\u22120.4','\u22120.6','\u22120.8','\u22121'];

const gX = function (c) { return 2849.6 + 78.75 * c; };
const gY = function (r) { return 3381 + 78.9 * r; };
function corrColor(v) {
  const stops = [[-1,10,108,163],[-0.8,43,134,191],[-0.6,90,168,218],[-0.4,163,205,232],[-0.2,212,230,243],[0,255,255,255],[0.2,253,227,216],[0.4,253,184,165],[0.6,251,138,118],[0.8,232,87,78],[1,215,59,59]];
  for (let i = 1; i < stops.length; i++) {
    if (v <= stops[i][0]) {
      const a = stops[i - 1], b = stops[i], t = (v - a[0]) / (b[0] - a[0]);
      return 'rgb(' + [1,2,3].map(function (k) { return Math.round(a[k] + (b[k] - a[k]) * t); }).join(',') + ')';
    }
  }
  return 'rgb(215,59,59)';
}
corrColNames.forEach(function (name, c) {
  const bx = gX(c) + 39.4 + 14;
  txt(panelG, name, bx, 3364, 41, {transform: 'rotate(-90 ' + bx + ' 3364)', fill: '#111'}, 'column-label-' + name);
});
corrRowNames.forEach(function (name, r) {
  txt(panelG, name, gX(r) - 20, gY(r) + 39.5 + 11, 41, {'text-anchor': 'end', fill: '#111'}, 'row-label-' + name);
  corrRows[r].forEach(function (v, k) {
    const c = r + k;
    const x = gX(c), y = gY(r), cx = x + 39.4, cy = y + 39.5, R = 34;
    mk('rect', {x: x, y: y, width: 78.75, height: 78.9, fill: '#fff', stroke: '#c8c8c8', 'stroke-width': 2}, panelG, 'corr-cell');
    const col = corrColor(v);
    mk('circle', {cx: cx, cy: cy, r: R, fill: '#fff', stroke: col, 'stroke-width': 2}, panelG, 'corr-pie-background');
    const frac = Math.min(Math.abs(v), 0.999);
    const dir = v >= 0 ? 1 : -1;
    const ang = frac * 2 * Math.PI;
    const ex = cx + dir * R * Math.sin(ang), ey = cy - R * Math.cos(ang);
    const large = frac > 0.5 ? 1 : 0;
    const d = 'M' + cx + ' ' + cy + 'L' + cx + ' ' + (cy - R) + 'A' + R + ' ' + R + ' 0 ' + large + ' ' + (v >= 0 ? 1 : 0) + ' ' + ex.toFixed(2) + ' ' + ey.toFixed(2) + 'Z';
    mk('path', {d: d, fill: col, stroke: '#111', 'stroke-width': 2.4, 'stroke-linejoin': 'round'}, panelG, 'corr-pie-' + name + '-' + corrColNames[c]);
  });
});
corrBarTicks.forEach(function (label, i) {
  const y = 3383 + 94 * i;
  mk('line', {x1: 3850, x2: 3856, y1: y, y2: y, stroke: '#222', 'stroke-width': 2}, panelG, 'colorbar-tick');
  txt(panelG, label, 3867, y + 12, 34, {fill: '#111'}, 'colorbar-tick-label');
});
</script>
</body>
</html>
